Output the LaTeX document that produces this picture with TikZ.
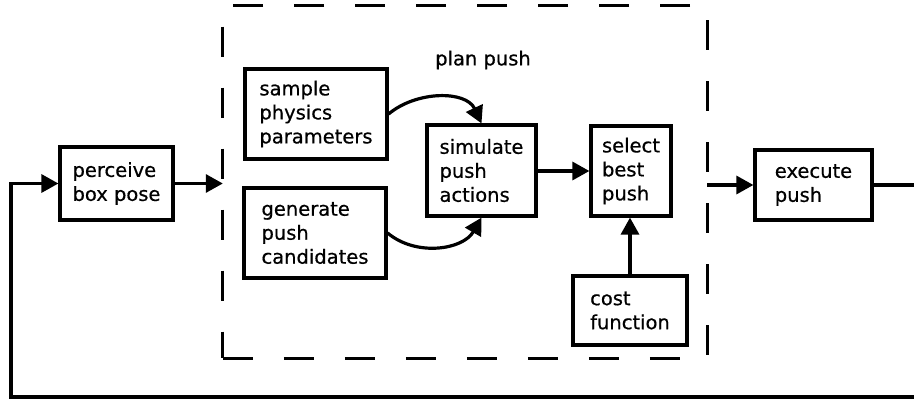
\documentclass[tikz,border=0pt]{standalone}
\usepackage{fontspec}
\setmainfont{DejaVu Sans}[FakeBold=0.6]
\usepackage{tikz}
\usetikzlibrary{arrows.meta,positioning,calc}

\begin{document}
\begin{tikzpicture}[
    x=1pt, y=1pt, >={Triangle[length=17pt,width=18pt]},
    blk/.style={rectangle, draw=black, line width=3.2pt, fill=white, align=left, inner sep=0pt, font=\fontsize{19.5}{24}\selectfont},
    planbox/.style={rectangle, inner sep=0pt},
    planline/.style={draw=black, line width=3.2pt, dash pattern=on 30pt off 31pt},
    lbl/.style={font=\fontsize{19.5}{24}\selectfont, inner sep=0pt},
    flow/.style={->, draw=black, line width=3.2pt},
    wire/.style={draw=black, line width=3.2pt},
  ]
  \useasboundingbox (0,0) rectangle (914,400);
  % planning stage
  \node[planbox, minimum width=484pt, minimum height=352pt] (plan) at (465,218) {};
  \draw[planline] (plan.south west) -- (plan.south east) -- (plan.north east) -- (plan.north west) -- cycle;
  \node[lbl] (plantitle) at (483,340) {plan push};
  \node[blk, minimum width=142pt, minimum height=90pt] (sample) at (316,286) {sample\\physics\\parameters};
  \node[blk, minimum width=142pt, minimum height=90pt] (generate) at (315,167) {generate\\push\\candidates};
  \node[blk, minimum width=109pt, minimum height=91pt] (simulate) at (481.5,229.5) {simulate\\push\\actions};
  \node[blk, minimum width=80pt, minimum height=90pt] (select) at (631,229) {select\\best\\push};
  \node[blk, minimum width=114pt, minimum height=69pt] (cost) at (630,89.5) {cost\\function};
  % outer loop
  \node[blk, minimum width=113pt, minimum height=73pt] (perceive) at (116.5,216.5) {perceive\\box pose};
  \node[blk, minimum width=117pt, minimum height=70pt] (execute) at (813.5,215) {execute\\push};
  \coordinate (exitR) at (914,215);
  \coordinate (loopR) at (914,3);
  \coordinate (loopL) at (11,3);

  \draw[flow] (sample.east) to[out=40, in=115] (simulate.north);
  \draw[flow] (generate.east) to[out=-40, in=-120] (simulate.south);
  \draw[flow] (simulate.east |- select.west) -- (select.west);
  \draw[flow] (cost.north) -- (cost.north |- select.south);
  \draw[flow] (perceive.east) -- (perceive.east -| plan.west);
  \draw[flow] (plan.east |- execute.west) -- (execute.west);
  \draw[wire] (execute.east) -- (exitR);
  \draw[flow] (loopR) -- (loopL) |- (perceive.west);
\end{tikzpicture}
\end{document}
